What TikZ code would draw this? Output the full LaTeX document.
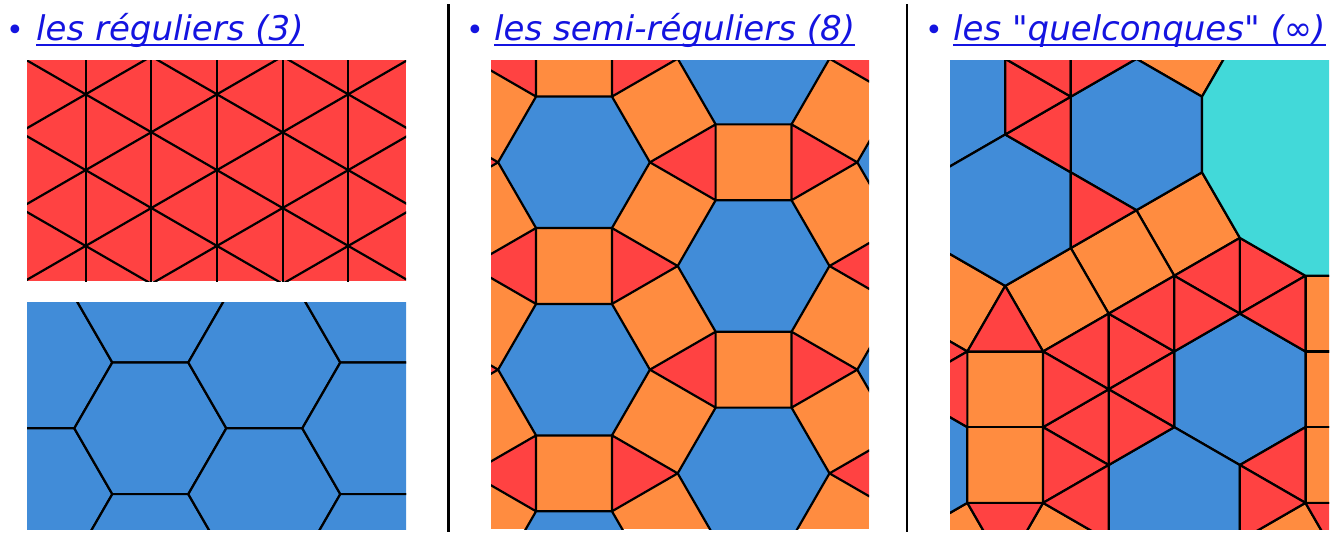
\documentclass[tikz,border=0pt]{standalone}
\usepackage{fontspec}
\setmainfont{DejaVu Sans}
\usetikzlibrary{calc}
\definecolor{pavred}{HTML}{FF4242}
\definecolor{pavblue}{HTML}{418CD8}
\definecolor{pavorange}{HTML}{FF8C40}
\definecolor{pavteal}{HTML}{42D9D9}
\definecolor{inkblue}{HTML}{1414E0}
% polygone regulier : style, centre, cotes, rayon, angle
\newcommand\ngon[5]{\draw[#1] ($#2+(#5:#4)$) \foreach \k in {2,...,#3}{ -- ($#2+({#5+(\k-1)*360/#3}:#4)$)} -- cycle;}
\tikzset{
  % pavages
  tri/.style={fill=pavred,draw=black,line width=2.2pt,line join=round},
  hexa/.style={fill=pavblue,draw=black,line width=2.2pt,line join=round},
  carre/.style={fill=pavorange,draw=black,line width=2.2pt,line join=round},
  dodeca/.style={fill=pavteal,draw=black,line width=2.2pt,line join=round},
  trait/.style={draw=black,line width=2.2pt},
  % titres
  titre/.style={anchor=base west,inner sep=0pt,text=inkblue,
                font=\fontsize{34}{40}\selectfont\itshape},
  puce/.style={anchor=base west,inner sep=0pt,text=inkblue,
               font=\fontsize{30}{36}\selectfont},
  souligne/.style={draw=inkblue,line width=2pt},
  sep/.style={draw=black,line width=2.4pt},
}
\begin{document}
\begin{tikzpicture}[x=1pt,y=-1pt]
  \useasboundingbox (0,0) rectangle (1340,542);
  % titres
  \node[puce] (p1) at (6,40) {•};
  \node[titre] (t1) at (36,40) {les réguliers (3)};
  \node[puce] (p2) at (466,40) {•};
  \node[titre] (t2) at (494,40) {les semi-réguliers (8)};
  \node[puce] (p3) at (925,40) {•};
  \node[titre] (t3) at (953,40) {les \textquotedbl quelconques\textquotedbl{} (∞)};
  \draw[souligne] ([yshift=-5pt]t1.base west) -- ([yshift=-5pt]t1.base east);
  \draw[souligne] ([yshift=-5pt]t2.base west) -- ([yshift=-5pt]t2.base east);
  \draw[souligne] ([yshift=-5pt]t3.base west) -- ([yshift=-5pt]t3.base east);
  \draw[sep] (448.5,4) -- (448.5,532);
  \draw[sep] (907,4) -- (907,532);
  % triangles
  \begin{scope}
    \clip (27,60) rectangle (406,281);
    \fill[pavred] (27,60) rectangle (406,281);
    \foreach \k in {0,...,6} \draw[trait] (20+65.65*\k,0) -- (20+65.65*\k,340);
    \foreach \k in {-3,...,3} \draw[trait] (0,\k*75.8+44.85) -- (450,\k*75.8+44.85+259.8);
    \foreach \k in {-1,...,5} \draw[trait] (0,\k*75.8+143.75) -- (450,\k*75.8+143.75-259.8);
  \end{scope}
  % hexagones
  \begin{scope}
    \clip (27,302) rectangle (406,529);
    \fill[pavblue] (27,302) rectangle (406,529);
    \foreach \i in {-1,...,3} \foreach \j in {-2,...,2}{
      \pgfmathsetmacro\cx{150.3+114*\i}
      \pgfmathsetmacro\cy{428.3-65.82*\i+131.64*\j}
      \ngon{hexa}{(\cx,\cy)}{6}{76}{0}
    }
  \end{scope}
  % semi-reguliers 3.4.6.4
  \begin{scope}
    \clip (491,60) rectangle (869,529);
    \fill[pavorange] (491,60) rectangle (869,529);
    \foreach \i in {-2,...,2} \foreach \j in {-3,...,3}{
      \pgfmathsetmacro\cx{574+179.58*\i}
      \pgfmathsetmacro\cy{162.3+103.68*\i+207.36*\j}
      \pgfmathsetmacro\tx{\cx+119.72}
      \pgfmathsetmacro\ux{\cx+59.86}
      \pgfmathsetmacro\uy{\cy+103.68}
      \ngon{hexa}{(\cx,\cy)}{6}{75.9}{0}
      \ngon{tri}{(\tx,\cy)}{3}{43.82}{60}
      \ngon{tri}{(\ux,\uy)}{3}{43.82}{0}
    }
  \end{scope}
  % quelconques
  \begin{scope}
    \clip (950,60) rectangle (1329,529);
    \fill[pavorange] (950,60) rectangle (1329,529);
    \coordinate (A) at (1005.2,134.5);
    \coordinate (A1) at (1005.2,58.8);
    \coordinate (B) at (1070.8,96.65);
    \coordinate (B1) at (1070.8,20.95);
    \coordinate (C) at (1070.8,172.35);
    \coordinate (Ht) at (1136.4,58.8);
    \coordinate (E) at (1202,96.65);
    \coordinate (F) at (1202,172.35);
    \coordinate (D) at (1136.4,210.2);
    \coordinate (G) at (1070.8,248.05);
    \coordinate (Hb) at (1005.2,285.9);
    \coordinate (L) at (939.6,248.05);
    \coordinate (N) at (901.75,313.61);
    \coordinate (M) at (967.35,351.46);
    \coordinate (Q) at (1043.05,351.46);
    \coordinate (P) at (1108.65,313.6);
    \coordinate (I) at (1174.25,275.76);
    \coordinate (J) at (1239.85,237.9);
    \coordinate (Jd) at (1239.85,313.6);
    \coordinate (K) at (1305.45,275.76);
    \coordinate (Kd) at (1305.45,351.46);
    \coordinate (V) at (1108.65,389.3);
    \coordinate (U1) at (1174.25,351.46);
    \coordinate (U2) at (1174.25,427.16);
    \coordinate (W) at (1108.65,465);
    \coordinate (X) at (1043.05,427.16);
    \coordinate (Y) at (1043.05,502.86);
    \coordinate (W2) at (1108.65,540.7);
    \coordinate (N2) at (901.75,389.31);
    \coordinate (M2) at (967.35,427.16);
    \coordinate (M3) at (967.35,502.86);
    \coordinate (R3) at (901.75,540.7);
    \coordinate (R4) at (939.6,606.26);
    \coordinate (T9) at (1005.2,568.4);
    \coordinate (Y2) at (1070.8,606.26);
    \coordinate (S1) at (1239.85,31.09);
    \coordinate (S2) at (1174.25,-6.76);
    \coordinate (K2) at (1381.15,275.76);
    \coordinate (K3) at (1381.15,351.46);
    \coordinate (K4) at (1381.15,427.16);
    \coordinate (K5) at (1381.15,502.86);
    \coordinate (Kd2) at (1305.45,427.16);
    \coordinate (Kd3) at (1305.45,502.86);
    \coordinate (Z1) at (1239.85,465);
    \coordinate (Z2) at (1239.85,540.7);
    \coordinate (Z3) at (1343.3,568.4);
    \coordinate (Z4) at (1277.7,606.26);
    % carres
    \draw[carre] (Ht) -- (E) -- (S1) -- (S2) -- cycle;
    \draw[carre] (D) -- (F) -- (J) -- (I) -- cycle;
    \draw[carre] (G) -- (D) -- (I) -- (P) -- cycle;
    \draw[carre] (Hb) -- (G) -- (P) -- (Q) -- cycle;
    \draw[carre] (L) -- (Hb) -- (M) -- (N) -- cycle;
    \draw[carre] (M) -- (Q) -- (X) -- (M2) -- cycle;
    \draw[carre] (M2) -- (X) -- (Y) -- (M3) -- cycle;
    \draw[carre] (M3) -- (R3) -- (R4) -- (T9) -- cycle;
    \draw[carre] (Y) -- (W2) -- (Y2) -- (T9) -- cycle;
    \draw[carre] (K) -- (K2) -- (K3) -- (Kd) -- cycle;
    \draw[carre] (Kd) -- (K3) -- (K4) -- (Kd2) -- cycle;
    \draw[carre] (Kd2) -- (K4) -- (K5) -- (Kd3) -- cycle;
    \draw[carre] (Kd3) -- (Z2) -- (Z4) -- (Z3) -- cycle;
    % hexagones
    \ngon{hexa}{(939.6,96.65)}{6}{75.7}{30}
    \ngon{hexa}{(1005.2,210.2)}{6}{75.7}{30}
    \ngon{hexa}{(1136.4,134.5)}{6}{75.7}{30}
    \ngon{hexa}{(901.75,465)}{6}{75.7}{30}
    \ngon{hexa}{(1239.85,389.3)}{6}{75.7}{30}
    \ngon{hexa}{(1174.25,502.86)}{6}{75.7}{30}
    % triangles
    \draw[tri] (A) -- (B) -- (C) -- cycle;
    \draw[tri] (A) -- (A1) -- (B) -- cycle;
    \draw[tri] (A1) -- (B) -- (B1) -- cycle;
    \draw[tri] (B) -- (B1) -- (Ht) -- cycle;
    \draw[tri] (C) -- (D) -- (G) -- cycle;
    \draw[tri] (Hb) -- (M) -- (Q) -- cycle;
    \draw[tri] (M) -- (N) -- (N2) -- cycle;
    \draw[tri] (M) -- (N2) -- (M2) -- cycle;
    \draw[tri] (M3) -- (Y) -- (T9) -- cycle;
    \foreach \a/\b in {Q/P,P/U1,U1/U2,U2/W,W/X,X/Q}
      \draw[tri] (V) -- (\a) -- (\b) -- cycle;
    \draw[tri] (P) -- (I) -- (U1) -- cycle;
    \draw[tri] (I) -- (J) -- (Jd) -- cycle;
    \draw[tri] (I) -- (Jd) -- (U1) -- cycle;
    \draw[tri] (J) -- (K) -- (Jd) -- cycle;
    \draw[tri] (Jd) -- (K) -- (Kd) -- cycle;
    \draw[tri] (X) -- (W) -- (Y) -- cycle;
    \draw[tri] (Y) -- (W) -- (W2) -- cycle;
    \draw[tri] (Kd2) -- (Z1) -- (Kd3) -- cycle;
    \draw[tri] (Z1) -- (Kd3) -- (Z2) -- cycle;
    \draw[tri] (Kd3) -- (K5) -- (Z3) -- cycle;
    % dodecagone
    \ngon{dodeca}{(1343.27,134.5)}{12}{146.24}{15}
  \end{scope}
\end{tikzpicture}
\end{document}
